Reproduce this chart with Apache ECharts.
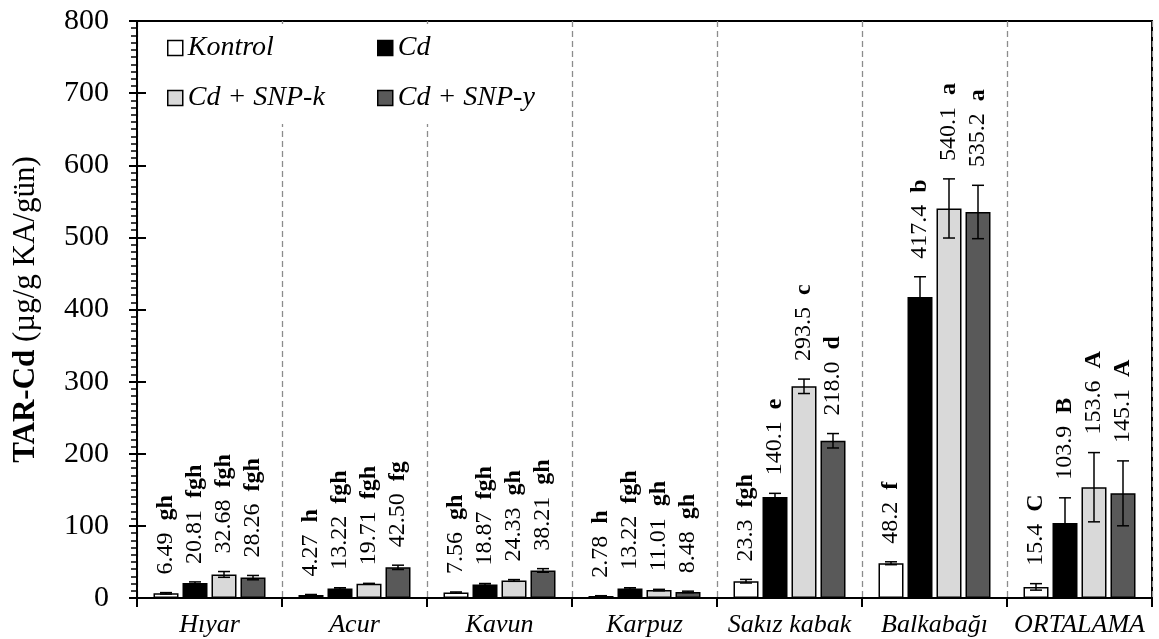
<!DOCTYPE html>
<html>
<head>
<meta charset="utf-8">
<script src="https://cdn.jsdelivr.net/npm/echarts@6/dist/echarts.min.js"></script>
<style>
html,body{margin:0;padding:0;background:#fff;}
#c{width:1159px;height:639px;}
</style>
</head>
<body>
<div id="c"></div>
<script>
const categories = ['Hıyar', 'Acur', 'Kavun', 'Karpuz', 'Sakız kabak', 'Balkabağı', 'ORTALAMA'];
const decimals = [2, 2, 2, 2, 1, 1, 1];
const seriesNames = ['Kontrol', 'Cd', 'Cd + SNP-k', 'Cd + SNP-y'];
const kontrolValues = [6.49, 4.27, 7.56, 2.78, 23.3, 48.2, 15.4];
const cdValues = [20.81, 13.22, 18.87, 13.22, 140.1, 417.4, 103.9];
const snpKValues = [32.68, 19.71, 24.33, 11.01, 293.5, 540.1, 153.6];
const snpYValues = [28.26, 42.50, 38.21, 8.48, 218.0, 535.2, 145.1];
const kontrolErrors = [1.0, 0.6, 0.8, 0.4, 2.5, 2.0, 4.5];
const cdErrors = [1.5, 1.0, 1.2, 1.0, 5.0, 28, 35];
const snpKErrors = [4.0, 0.6, 1.2, 1.0, 10, 41, 48];
const snpYErrors = [3.0, 3.0, 2.5, 1.0, 10, 37, 45];
const kontrolLetters = ['gh', 'h', 'gh', 'h', 'fgh', 'f', 'C'];
const cdLetters = ['fgh', 'fgh', 'fgh', 'fgh', 'e', 'b', 'B'];
const snpKLetters = ['fgh', 'fgh', 'gh', 'gh', 'c', 'a', 'A'];
const snpYLetters = ['fgh', 'fg', 'gh', 'gh', 'd', 'a', 'A'];
const yTicks = {min: 0, max: 800, interval: 100};

const allValues = [kontrolValues, cdValues, snpKValues, snpYValues];
const allErrors = [kontrolErrors, cdErrors, snpKErrors, snpYErrors];
const allLetters = [kontrolLetters, cdLetters, snpKLetters, snpYLetters];
const colors = ['#ffffff', '#000000', '#d9d9d9', '#595959'];
const ff = "'Liberation Serif', 'Times New Roman', serif";
const BW = 25, BG = '16%';

const chart = echarts.init(document.getElementById('c'), null, {renderer: 'canvas'});

const barSeries = seriesNames.map((n, si) => ({
  type: 'bar', name: n, data: allValues[si],
  barWidth: BW, barGap: BG,
  itemStyle: {color: colors[si], borderColor: '#000', borderWidth: 1.5},
  z: 2
}));

const errSeries = seriesNames.map((n, si) => ({
  type: 'custom', name: n + '_err', z: 3, clip: false, silent: true,
  data: categories.map((c, i) => [i, allValues[si][i], allErrors[si][i]]),
  renderItem: function (params, api) {
    const ci = api.value(0), v = api.value(1), e = api.value(2);
    const layout = api.barLayout({barWidth: BW, barGap: BG, count: 4});
    const base = api.coord([ci, v]);
    const x = base[0] + layout[si].offsetCenter;
    const yT = api.coord([ci, v + e])[1];
    const yB = api.coord([ci, Math.max(0, v - e)])[1];
    const cap = 6;
    const ls = {stroke: '#000', lineWidth: 1.5};
    const idx = params.dataIndex;
    const txt = '{v|' + v.toFixed(decimals[idx]) + '}{v|  }{l|' + allLetters[si][idx] + '}';
    return {
      type: 'group',
      children: [
        {type: 'line', shape: {x1: x, y1: yT, x2: x, y2: yB}, style: ls},
        {type: 'line', shape: {x1: x - cap, y1: yT, x2: x + cap, y2: yT}, style: ls},
        {type: 'line', shape: {x1: x - cap, y1: yB, x2: x + cap, y2: yB}, style: ls},
        {type: 'text', x: x, y: yT - 18, rotation: Math.PI / 2,
          style: {
            text: txt, align: 'left', verticalAlign: 'middle', fill: '#000',
            fontSize: 24, fontFamily: ff,
            rich: {
              v: {fontSize: 24, fontFamily: ff, fill: '#000'},
              l: {fontSize: 24, fontFamily: ff, fontWeight: 'bold', fill: '#000'}
            }
          }}
      ]
    };
  }
}));

const legendCommon = {
  orient: 'vertical', itemWidth: 15, itemHeight: 15, itemGap: 22,
  selectedMode: false, icon: 'rect', backgroundColor: '#fff',
  itemStyle: {borderColor: '#000', borderWidth: 1.5},
  textStyle: {fontSize: 28, fontStyle: 'italic', fontFamily: ff, color: '#000'}
};

const option = {
  animation: false,
  backgroundColor: '#fff',
  grid: {left: 137, right: 7, top: 21, bottom: 41, show: true, borderColor: '#000', borderWidth: 2, backgroundColor: 'transparent'},
  legend: [
    Object.assign({}, legendCommon, {data: [seriesNames[0], seriesNames[2]], left: 157, top: 24, padding: [10, 8, 12, 10]}),
    Object.assign({}, legendCommon, {data: [seriesNames[1], seriesNames[3]], left: 367, top: 24, padding: [10, 8, 12, 10]})
  ],
  xAxis: {
    type: 'category', data: categories,
    axisLine: {lineStyle: {color: '#000', width: 2}},
    axisTick: {show: true, interval: 0, length: 9, lineStyle: {color: '#000', width: 2}},
    axisLabel: {interval: 0, fontSize: 26, fontStyle: 'italic', fontFamily: ff, color: '#000', margin: 14},
    splitLine: {show: true, interval: 0, lineStyle: {type: [6, 4], color: '#8c8c8c', width: 1.3}}
  },
  yAxis: [
    {
      type: 'value', min: yTicks.min, max: yTicks.max, interval: yTicks.interval,
      name: '{b|TAR-Cd}{n| (µg/g KA/gün)}', nameLocation: 'middle', nameGap: 96,
      nameTextStyle: {rich: {
        b: {fontWeight: 'bold', fontSize: 31, fontFamily: ff, color: '#000'},
        n: {fontSize: 31, fontFamily: ff, color: '#000'}
      }},
      axisLine: {show: true, lineStyle: {color: '#000', width: 2}},
      axisTick: {show: true, length: 8, lineStyle: {color: '#000', width: 2}},
      minorTick: {show: true, splitNumber: 10, length: 6, lineStyle: {color: '#000', width: 1.5}},
      axisLabel: {fontSize: 30, fontFamily: ff, color: '#000', margin: 28},
      splitLine: {show: false}
    },
    {
      type: 'value', min: yTicks.min, max: yTicks.max, interval: yTicks.interval, position: 'left',
      axisLine: {show: false},
      axisTick: {show: true, inside: true, length: 9, lineStyle: {color: '#000', width: 2}},
      axisLabel: {show: false},
      splitLine: {show: false}
    }
  ],
  series: barSeries.concat(errSeries)
};
chart.setOption(option);
</script>
</body>
</html>
